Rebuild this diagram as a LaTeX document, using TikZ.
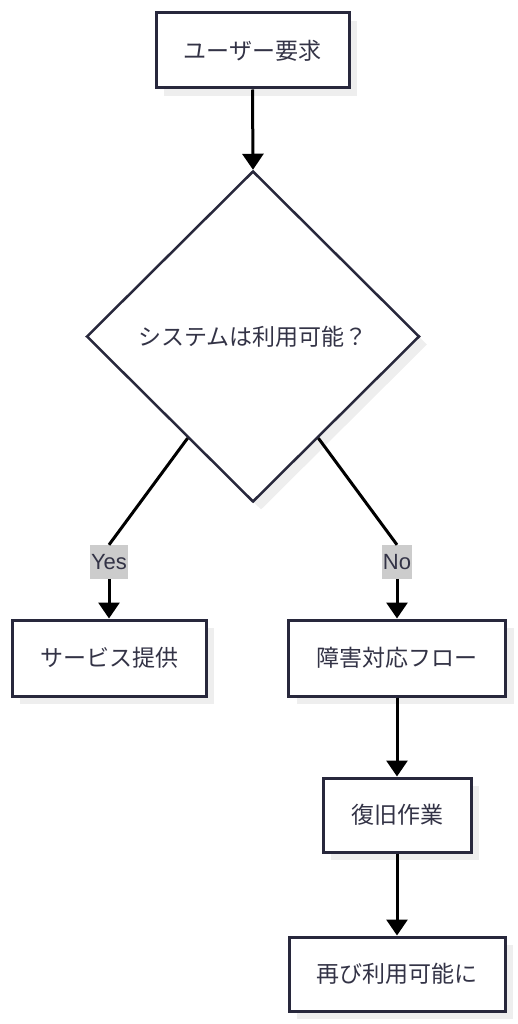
\documentclass[tikz,border=0pt]{standalone}
\usepackage{fontspec}
\newfontfamily\jp{Noto Sans CJK JP}
\newfontfamily\lat{Liberation Sans}
\usetikzlibrary{arrows.meta,shapes.geometric,shadows,calc}
\definecolor{edgec}{RGB}{40,40,60}
\definecolor{txtc}{RGB}{51,51,70}
\definecolor{shadc}{RGB}{238,238,238}
\definecolor{lblc}{RGB}{204,204,204}
\tikzset{
  procbox/.style={draw=edgec, line width=3pt, fill=white, inner sep=0pt,
    font=\jp\fontsize{23}{27}\selectfont, text=txtc,
    drop shadow={shadow xshift=8pt, shadow yshift=-8pt, fill=shadc, opacity=1}},
  decbox/.style={diamond, draw=edgec, line width=2.5pt, fill=white, inner sep=0pt,
    font=\jp\fontsize{23}{27}\selectfont, text=txtc,
    drop shadow={shadow xshift=8pt, shadow yshift=-8pt, fill=shadc, opacity=1}},
  lbl/.style={fill=lblc, inner sep=0pt, font=\lat\fontsize{22}{26}\selectfont, text=txtc},
  conn/.style={line width=3pt, black},
  arr/.style={conn, -{Triangle[length=16pt,width=21pt]}},
}
\begin{document}
\begin{tikzpicture}[x=1pt,y=-1pt]
\useasboundingbox (0,0) rectangle (518,1024);
\node[procbox, minimum width=193pt, minimum height=75pt] (a) at (252.5,50.5) {ユーザー要求};
\node[decbox, minimum width=333pt, minimum height=331pt] (d) at (253,336.5) {システムは利用可能？};
\node[lbl, minimum width=38pt, minimum height=34pt] (y) at (109,562) {Yes};
\node[lbl, minimum width=30pt, minimum height=34pt] (n) at (397,562) {No};
\node[procbox, minimum width=194pt, minimum height=76pt] (s) at (109,658) {サービス提供};
\node[procbox, minimum width=217pt, minimum height=76pt] (f) at (397,658) {障害対応フロー};
\node[procbox, minimum width=148pt, minimum height=74pt] (r) at (397,815) {復旧作業};
\node[procbox, minimum width=216pt, minimum height=74pt] (e) at (397,974) {再び利用可能に};
\coordinate (dl) at ($(d.west)!0.61!(d.south)$);
\coordinate (dr) at ($(d.east)!0.61!(d.south)$);
\draw[arr] (a.south) -- (d.north);
\draw[conn] (dl) -- (y.north);
\draw[arr] (y.south) -- (s.north);
\draw[conn] (dr) -- (n.north);
\draw[arr] (n.south) -- (f.north);
\draw[arr] (f.south) -- (r.north);
\draw[arr] (r.south) -- (e.north);
\end{tikzpicture}
\end{document}
